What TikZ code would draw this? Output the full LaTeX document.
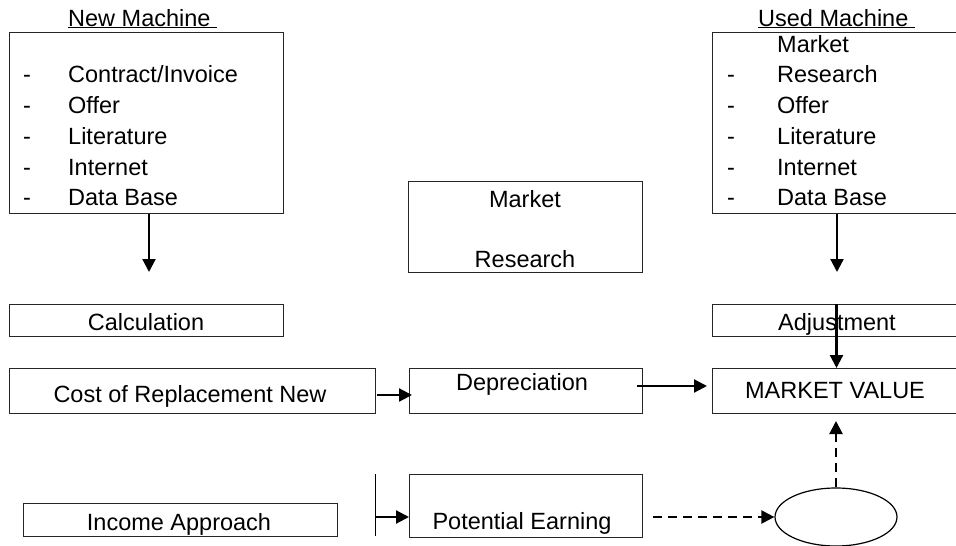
\documentclass[tikz,border=0pt]{standalone}
\usepackage{fontspec}
\setmainfont{Liberation Sans}
\usetikzlibrary{arrows.meta,shapes.geometric}
\tikzset{
  box/.style={draw=black!85, line width=1pt, inner sep=0pt, anchor=north west, rectangle},
  txt/.style={inner sep=0pt, anchor=base, font=\fontsize{23.5}{28}\selectfont},
  txtl/.style={txt, anchor=base west},
  arr/.style={line width=2.2pt, -{Triangle[length=13pt,width=13pt]}},
  darr/.style={arr, dash pattern=on 9pt off 6pt},
}
\begin{document}
\begin{tikzpicture}[x=1pt,y=-1pt]
\useasboundingbox (0,0) rectangle (956,546);
% boxes
\node[box, minimum width=274pt, minimum height=181pt] (nm) at (9,32) {};
\node[box, minimum width=246pt, minimum height=181pt] (um) at (712,32) {};
\node[box, minimum width=234pt, minimum height=91pt] (mr) at (408,181) {};
\node[box, minimum width=274pt, minimum height=32pt] (calc) at (9,304) {};
\node[box, minimum width=246pt, minimum height=32pt] (adj) at (712,304) {};
\node[box, minimum width=366pt, minimum height=45pt] (crn) at (9,368) {};
\node[box, minimum width=233pt, minimum height=45pt] (dep) at (409,368) {};
\node[box, minimum width=246pt, minimum height=45pt] (mv) at (712,368) {};
\node[box, minimum width=314pt, minimum height=33pt] (inc) at (23,503) {};
\node[box, minimum width=233pt, minimum height=63pt] (pe) at (409,474) {};
\node[draw=black, line width=1.2pt, ellipse, inner sep=0pt, minimum width=122pt, minimum height=58pt] (ell) at (836,517) {};
% titles
\node[txtl] (t1) at (68,26) {\underline{New Machine\ }};
\node[txtl] (t2) at (758,26) {\underline{Used Machine\ }};
% new machine list
\node[txtl] (nd1) at (23,82) {-};
\node[txtl] (ni1) at (68,82) {Contract/Invoice};
\node[txtl] (nd2) at (23,113) {-};
\node[txtl] (ni2) at (68,113) {Offer};
\node[txtl] (nd3) at (23,144) {-};
\node[txtl] (ni3) at (68,144) {Literature};
\node[txtl] (nd4) at (23,175) {-};
\node[txtl] (ni4) at (68,175) {Internet};
\node[txtl] (nd5) at (23,205) {-};
\node[txtl] (ni5) at (68,205) {Data Base};
% used machine list
\node[txtl] (ui0) at (777,52) {Market};
\node[txtl] (ud1) at (727,82) {-};
\node[txtl] (ui1) at (777,82) {Research};
\node[txtl] (ud2) at (727,113) {-};
\node[txtl] (ui2) at (777,113) {Offer};
\node[txtl] (ud3) at (727,144) {-};
\node[txtl] (ui3) at (777,144) {Literature};
\node[txtl] (ud4) at (727,175) {-};
\node[txtl] (ui4) at (777,175) {Internet};
\node[txtl] (ud5) at (727,205) {-};
\node[txtl] (ui5) at (777,205) {Data Base};
% box texts
\node[txt] (mr1) at (525,207) {Market};
\node[txt] (mr2) at (525,267) {Research};
\node[txt] (calct) at (146,330) {Calculation};
\node[txt] (adjt) at (837,330) {Adjustment};
\node[txt] (crnt) at (190,402) {Cost of Replacement New};
\node[txt] (dept) at (522,390) {Depreciation};
\node[txt] (mvt) at (835,398) {MARKET VALUE};
\node[txt] (inct) at (179,530) {Income Approach};
\node[txt] (pet) at (522,529) {Potential Earning};
% free coordinates
\coordinate (nmEnd) at (149,272);
\coordinate (umEnd) at (837,272);
\coordinate (barT) at (375,474);
\coordinate (barB) at (375,536);
\coordinate (barM) at (375,517);
\coordinate (c1s) at (377,395);
\coordinate (c1e) at (412,395);
\coordinate (c2s) at (637,386);
\coordinate (c2e) at (707,386);
\coordinate (mvTip) at (836,421);
% connectors
\draw[arr] (nm.south -| nmEnd) -- (nmEnd);
\draw[arr] (um.south -| umEnd) -- (umEnd);
\draw[arr] ([xshift=1pt]adj.north) -- ([xshift=1pt]mv.north);
\draw[arr] (c1s) -- (c1e);
\draw[arr] (c2s) -- (c2e);
\draw[line width=1pt] (barT) -- (barB);
\draw[arr] (barM) -- (pe.west |- barM);
\draw[darr] ([xshift=10pt]pe.east |- ell.west) -- (ell.west);
\draw[darr] (ell.north) -- (mvTip);
\end{tikzpicture}
\end{document}
